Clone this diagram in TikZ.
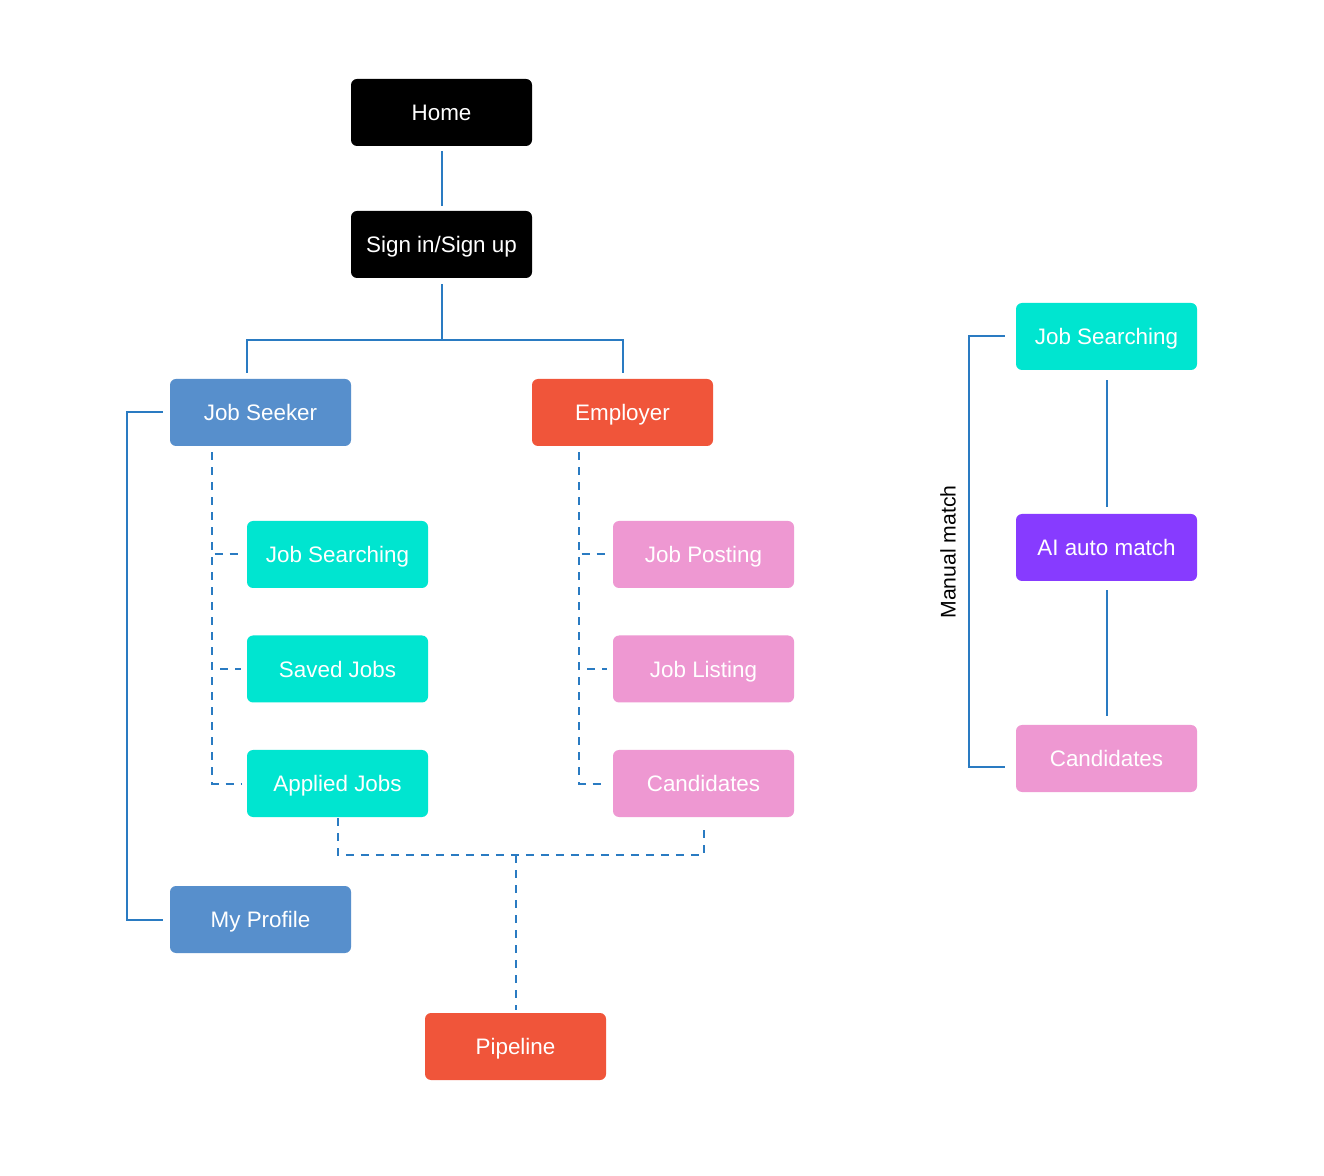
\documentclass[tikz,border=0pt]{standalone}
\usepackage{fontspec}
\setmainfont{Liberation Sans}
\begin{document}
\begin{tikzpicture}[x=0.5pt,y=-0.5pt,
  box/.style={rounded corners=3pt, minimum width=90.5pt, minimum height=33.5pt, inner sep=0pt, text=white, font=\fontsize{11.2}{13}\selectfont, text height=1.6ex, text depth=0ex},
  blk/.style={box, fill=black},
  seekc/.style={box, fill=seekblue},
  redc/.style={box, fill=empred},
  cyanc/.style={box, fill=cyanbox},
  pinkc/.style={box, fill=pinkbox},
  purc/.style={box, fill=purplebox},
  conn/.style={draw=linecol, line width=1pt},
  dconn/.style={conn, dash pattern=on 4pt off 3.5pt}]
\definecolor{seekblue}{HTML}{578FCC}
\definecolor{empred}{HTML}{F0553A}
\definecolor{cyanbox}{HTML}{00E5D0}
\definecolor{pinkbox}{HTML}{EE98D2}
\definecolor{purplebox}{HTML}{873BFF}
\definecolor{linecol}{HTML}{2A7BC2}
\useasboundingbox[fill=white] (0,0) rectangle (1324,1176);

\node[blk] (home) at (441.5,112.5) {Home};
\node[blk] (sign) at (441.5,244.5) {Sign in/Sign up};
\node[seekc] (seeker) at (260.5,412.5) {Job Seeker};
\node[redc] (employer) at (622.5,412.5) {Employer};
\node[cyanc] (js1) at (337.5,554.5) {Job Searching};
\node[cyanc] (saved) at (337.5,669) {Saved Jobs};
\node[cyanc] (applied) at (337.5,783.5) {Applied Jobs};
\node[pinkc] (posting) at (703.5,554.5) {Job Posting};
\node[pinkc] (listing) at (703.5,669) {Job Listing};
\node[pinkc] (cand) at (703.5,783.5) {Candidates};
\node[seekc] (profile) at (260.5,919.5) {My Profile};
\node[redc] (pipe) at (515.5,1046.5) {Pipeline};
\node[cyanc] (rjs) at (1106.5,336.5) {Job Searching};
\node[purc] (ai) at (1106.5,547.5) {AI auto match};
\node[pinkc] (rcand) at (1106.5,758.5) {Candidates};
\node[rotate=90, font=\fontsize{10.6}{12}\selectfont] (manual) at (948,552) {Manual match};

\coordinate (split) at (441.5,340);
\coordinate (leftx) at (127,0);
\coordinate (jn) at (515.5,855);
\coordinate (rightx) at (969,0);

\draw[conn, shorten <=2.5pt, shorten >=2.5pt] (home) -- (sign);
\draw[conn, shorten <=3pt] (sign.south) -- (split);
\draw[conn, shorten >=3pt] (split) -| ([xshift=-6.75pt]seeker.north);
\draw[conn, shorten >=3pt] (split) -| (employer.north);
\draw[conn, shorten <=3.5pt, shorten >=3.5pt] (seeker.west) -- (seeker.west -| leftx) |- (profile.west);

\coordinate (sk) at ([xshift=21pt]seeker.south west);
\draw[dconn, shorten <=3pt, shorten >=3pt] (sk) |- (js1.west);
\draw[dconn, shorten <=3pt, shorten >=3pt] (sk) |- (saved.west);
\draw[dconn, shorten <=3pt, shorten >=3pt] (sk) |- (applied.west);
\coordinate (em) at ([xshift=23.5pt]employer.south west);
\draw[dconn, shorten <=3pt, shorten >=3pt] (em) |- (posting.west);
\draw[dconn, shorten <=3pt, shorten >=3pt] (em) |- (listing.west);
\draw[dconn, shorten <=3pt, shorten >=3pt] (em) |- (cand.west);

\draw[dconn, shorten <=0.5pt, shorten >=3pt] (applied.south) |- (jn) -| (cand.south);
\draw[dconn, shorten >=1.5pt] (jn) -- (pipe.north);

\draw[conn, shorten <=5pt, shorten >=3.5pt] (rjs) -- (ai);
\draw[conn, shorten <=4.5pt, shorten >=4.5pt] (ai) -- (rcand);
\draw[conn, shorten <=5.5pt, shorten >=5.5pt] (rjs.west) -- (rjs.west -| rightx) |- ([yshift=-4pt]rcand.west);
\end{tikzpicture}
\end{document}
